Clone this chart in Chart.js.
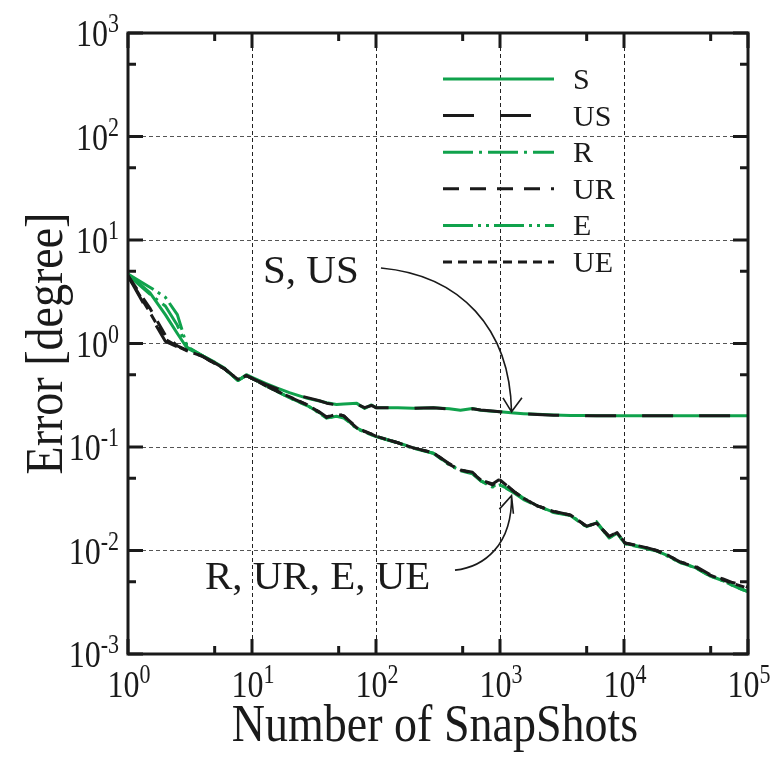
<!DOCTYPE html>
<html>
<head>
<meta charset="utf-8">
<script src="https://cdn.jsdelivr.net/npm/chart.js@4/dist/chart.umd.min.js"></script>
<style>
  html, body { margin: 0; padding: 0; background: #ffffff; }
  #wrap { width: 778px; height: 760px; }
</style>
</head>
<body>
<div id="wrap"><canvas id="c" width="778" height="760"></canvas></div>
<script>
// Number of snapshots used for the estimate
const snapshots = [1, 1.5, 2, 2.5, 3, 4, 5, 6, 7.7, 9, 10, 13, 16, 20, 28, 35, 40, 48, 55, 60,
  70, 81, 92, 100, 150, 200, 290, 390, 480, 600, 700, 870, 1000, 1300, 1550, 2000, 2700, 3700,
  5000, 6000, 7600, 8800, 10200, 14000, 18300, 23000, 28000, 38000, 49000, 63000, 75000, 90000, 100000];

// Error [degree] for each method
const errS  = [4.7, 3.1, 1.9, 1.25, 0.9, 0.76, 0.66, 0.58, 0.44, 0.5, 0.47, 0.41, 0.37, 0.335, 0.295,
  0.278, 0.268, 0.257, 0.26, 0.262, 0.264, 0.236, 0.255, 0.24, 0.239, 0.237, 0.24, 0.234, 0.226, 0.235,
  0.227, 0.222, 0.219, 0.213, 0.21, 0.207, 0.204, 0.202, 0.201, 0.2, 0.2, 0.2, 0.2, 0.2, 0.2,
  0.2, 0.2, 0.2, 0.2, 0.2, 0.2, 0.2, 0.2];
const errUS = [4.5, 1.9, 1.05, 0.93, 0.85, 0.75, 0.65, 0.57, 0.45, 0.49, 0.46, 0.4, 0.365, 0.33, 0.3,
  0.28, 0.265, 0.255, 0.258, 0.26, 0.26, 0.24, 0.252, 0.24, 0.238, 0.236, 0.24, 0.233, 0.228, 0.234,
  0.228, 0.223, 0.219, 0.212, 0.209, 0.206, 0.203, 0.201, 0.2, 0.2, 0.2, 0.2, 0.2, 0.2, 0.2,
  0.2, 0.2, 0.2, 0.2, 0.2, 0.2, 0.2, 0.2];
const errR  = [4.6, 3.0, 2.3, 1.5, 0.92, 0.76, 0.65, 0.57, 0.44, 0.49, 0.46, 0.39, 0.345, 0.3, 0.25,
  0.215, 0.19, 0.2, 0.195, 0.178, 0.152, 0.14, 0.132, 0.127, 0.11, 0.098, 0.087, 0.068, 0.06, 0.056,
  0.047, 0.042, 0.043, 0.037, 0.032, 0.027, 0.0235, 0.022, 0.017, 0.0185, 0.0133, 0.0146, 0.0117, 0.0108, 0.0099,
  0.0088, 0.0077, 0.0068, 0.0057, 0.0051, 0.0046, 0.0042, 0.0040];
const errUR = [4.5, 2.2, 1.2, 0.95, 0.86, 0.75, 0.64, 0.57, 0.45, 0.49, 0.46, 0.39, 0.345, 0.305, 0.255,
  0.218, 0.195, 0.21, 0.2, 0.182, 0.155, 0.142, 0.133, 0.127, 0.11, 0.098, 0.088, 0.069, 0.06, 0.057,
  0.048, 0.044, 0.049, 0.037, 0.032, 0.027, 0.024, 0.022, 0.0172, 0.0183, 0.0137, 0.015, 0.0118, 0.011, 0.01,
  0.0089, 0.0078, 0.007, 0.0059, 0.0053, 0.0049, 0.0047, 0.0044];
const errE  = [4.7, 3.5, 2.8, 1.9, 0.93, 0.76, 0.65, 0.57, 0.44, 0.49, 0.46, 0.39, 0.342, 0.3, 0.252,
  0.212, 0.19, 0.198, 0.19, 0.176, 0.15, 0.139, 0.131, 0.126, 0.109, 0.097, 0.087, 0.067, 0.059, 0.055,
  0.047, 0.041, 0.043, 0.036, 0.031, 0.027, 0.0233, 0.0218, 0.0168, 0.019, 0.0132, 0.0147, 0.0116, 0.0107, 0.0099,
  0.0087, 0.0077, 0.0068, 0.0057, 0.0051, 0.0046, 0.0042, 0.0040];
const errUE = [4.5, 2.0, 1.1, 0.94, 0.85, 0.75, 0.64, 0.57, 0.45, 0.49, 0.46, 0.39, 0.346, 0.306, 0.256,
  0.216, 0.193, 0.208, 0.2, 0.18, 0.153, 0.141, 0.133, 0.127, 0.11, 0.098, 0.088, 0.068, 0.06, 0.056,
  0.048, 0.043, 0.048, 0.037, 0.032, 0.027, 0.0238, 0.022, 0.0171, 0.0184, 0.0136, 0.0149, 0.0118, 0.0109, 0.01,
  0.0089, 0.0078, 0.0069, 0.0058, 0.0052, 0.0048, 0.0045, 0.0043];

const seriesNames = ['S', 'US', 'R', 'UR', 'E', 'UE'];

// Decade ticks of both log axes, labelled as 10^n
const xDecades = [1, 10, 100, 1000, 10000, 100000];
const xExponents = ['0', '1', '2', '3', '4', '5'];
const yDecades = [1e-3, 1e-2, 1e-1, 1, 10, 100, 1000];
const yExponents = ['-3', '-2', '-1', '0', '1', '2', '3'];

const xTitle = 'Number of SnapShots';
const yTitle = 'Error [degree]';
const noteUpper = 'S, US';
const noteLower = 'R, UR, E, UE';

const GREEN = '#10a24c';
const BLACK = '#1a1a1a';
const SERIF = "'Liberation Serif', 'Times New Roman', serif";

const styles = {
  S:  { color: GREEN, dash: [], order: 2 },
  US: { color: BLACK, dash: [31, 26], order: 1 },
  R:  { color: GREEN, dash: [30, 6, 3, 6], order: 2 },
  UR: { color: BLACK, dash: [16, 11], order: 1 },
  E:  { color: GREEN, dash: [30, 5, 3, 5, 3, 5], order: 2 },
  UE: { color: BLACK, dash: [9, 6], order: 1 }
};
const values = { S: errS, US: errUS, R: errR, UR: errUR, E: errE, UE: errUE };

const datasets = seriesNames.map(name => ({
  label: name,
  data: snapshots.map((x, i) => ({ x: x, y: values[name][i] })),
  borderColor: styles[name].color,
  borderDash: styles[name].dash,
  borderWidth: 3,
  borderCapStyle: 'butt',
  borderJoinStyle: 'round',
  pointRadius: 0,
  tension: 0,
  fill: false,
  order: styles[name].order
}));

// Text with a slight vertical stretch, as used for the axis lettering
function tallText(ctx, str, x, y, sy) {
  ctx.save();
  ctx.translate(x, y);
  ctx.scale(1, sy);
  ctx.fillText(str, 0, 0);
  ctx.restore();
}

const frameAndText = {
  id: 'frameAndText',
  afterDraw(chart) {
    const { ctx, chartArea: a } = chart;
    const xs = chart.scales.x, ys = chart.scales.y;
    ctx.save();
    ctx.fillStyle = BLACK;
    ctx.strokeStyle = BLACK;

    // frame
    ctx.lineWidth = 3;
    ctx.setLineDash([]);
    ctx.strokeRect(a.left, a.top, a.right - a.left, a.bottom - a.top);

    // inner tick marks on all four sides
    ctx.lineWidth = 3;
    ctx.beginPath();
    xDecades.forEach(v => {
      const px = xs.getPixelForValue(v);
      ctx.moveTo(px, a.bottom); ctx.lineTo(px, a.bottom - 15);
      ctx.moveTo(px, a.top); ctx.lineTo(px, a.top + 15);
      const m = v * 5;
      if (m < 1e5) {
        const pm = xs.getPixelForValue(m);
        ctx.moveTo(pm, a.bottom); ctx.lineTo(pm, a.bottom - 8);
        ctx.moveTo(pm, a.top); ctx.lineTo(pm, a.top + 8);
      }
    });
    yDecades.forEach(v => {
      const py = ys.getPixelForValue(v);
      ctx.moveTo(a.left, py); ctx.lineTo(a.left + 15, py);
      ctx.moveTo(a.right, py); ctx.lineTo(a.right - 15, py);
      const m = v * 5;
      if (m < 1e3) {
        const pm = ys.getPixelForValue(m);
        ctx.moveTo(a.left, pm); ctx.lineTo(a.left + 8, pm);
        ctx.moveTo(a.right, pm); ctx.lineTo(a.right - 8, pm);
      }
    });
    ctx.stroke();

    // tick labels 10^n
    const baseFont = '32px ' + SERIF, expFont = '22px ' + SERIF, sy = 1.2;
    ctx.textBaseline = 'alphabetic';
    ctx.textAlign = 'left';
    xDecades.forEach((v, i) => {
      const px = xs.getPixelForValue(v);
      ctx.font = baseFont; const wb = ctx.measureText('10').width;
      ctx.font = expFont; const we = ctx.measureText(xExponents[i]).width;
      const left = px - (wb + we) / 2 + 1;
      ctx.font = baseFont; tallText(ctx, '10', left, a.bottom + 43, sy);
      ctx.font = expFont; tallText(ctx, xExponents[i], left + wb, a.bottom + 29, sy);
    });
    yDecades.forEach((v, i) => {
      const py = ys.getPixelForValue(v);
      ctx.font = baseFont; const wb = ctx.measureText('10').width;
      ctx.font = expFont; const we = ctx.measureText(yExponents[i]).width;
      const right = a.left - 9;
      ctx.font = baseFont; tallText(ctx, '10', right - we - wb, py + 13, sy);
      ctx.font = expFont; tallText(ctx, yExponents[i], right - we, py - 1, sy);
    });

    // axis titles
    ctx.font = '46px ' + SERIF;
    ctx.textAlign = 'center';
    tallText(ctx, xTitle, (a.left + a.right) / 2 - 3, a.bottom + 87, 1.15);
    ctx.save();
    ctx.translate(62, (a.top + a.bottom) / 2);
    ctx.rotate(-Math.PI / 2);
    ctx.scale(1, 1.15);
    ctx.fillText(yTitle, 0, 0);
    ctx.restore();

    // legend
    ctx.textAlign = 'left';
    ctx.font = '30px ' + SERIF;
    chart.data.datasets.forEach((ds, i) => {
      const ly = a.top + 46 + i * 36.6;
      ctx.strokeStyle = ds.borderColor;
      ctx.lineWidth = 3;
      ctx.setLineDash(ds.borderDash);
      ctx.beginPath();
      ctx.moveTo(a.left + 315, ly);
      ctx.lineTo(a.left + 426, ly);
      ctx.stroke();
      ctx.setLineDash([]);
      ctx.fillStyle = BLACK;
      ctx.fillText(ds.label, a.left + 445, ly + 10);
    });

    // annotations with curved arrows
    const P = (lx, ly) => [xs.getPixelForValue(Math.pow(10, lx)), ys.getPixelForValue(Math.pow(10, ly))];
    ctx.font = '41px ' + SERIF;
    ctx.fillStyle = BLACK;
    const t1 = P(1.089, 0.585);
    ctx.fillText(noteUpper, t1[0], t1[1]);
    const t2 = P(0.62, -2.374);
    ctx.fillText(noteLower, t2[0], t2[1]);

    ctx.strokeStyle = BLACK;
    ctx.lineWidth = 1.6;
    function arrow(s, c1, c2, e, b1, b2) {
      ctx.beginPath();
      ctx.moveTo(s[0], s[1]);
      ctx.bezierCurveTo(c1[0], c1[1], c2[0], c2[1], e[0], e[1]);
      ctx.moveTo(b1[0], b1[1]); ctx.lineTo(e[0], e[1]); ctx.lineTo(b2[0], b2[1]);
      ctx.stroke();
    }
    arrow(P(2.04, 0.73), P(2.68, 0.66), P(3.08, 0.15), P(3.093, -0.66),
          P(3.024, -0.525), P(3.177, -0.525));
    arrow(P(2.637, -2.19), P(2.87, -2.16), P(3.1, -1.95), P(3.093, -1.47),
          P(2.995, -1.60), P(3.108, -1.645));
    ctx.restore();
  }
};

new Chart(document.getElementById('c'), {
  type: 'line',
  data: { datasets: datasets },
  options: {
    responsive: false,
    animation: false,
    devicePixelRatio: 1,
    layout: { padding: { left: 128, right: 30, top: 33, bottom: 106 } },
    plugins: { legend: { display: false }, tooltip: { enabled: false } },
    scales: {
      x: {
        type: 'logarithmic', min: 1, max: 100000,
        afterBuildTicks: s => { s.ticks = xDecades.map(v => ({ value: v })); },
        ticks: { display: false },
        grid: { color: '#222', lineWidth: 1, drawTicks: false, borderDash: [4, 3] },
        border: { display: false, dash: [4, 3] }
      },
      y: {
        type: 'logarithmic', min: 0.001, max: 1000,
        afterBuildTicks: s => { s.ticks = yDecades.map(v => ({ value: v })); },
        ticks: { display: false },
        grid: { color: '#555', lineWidth: 1, drawTicks: false, borderDash: [4, 3] },
        border: { display: false, dash: [4, 3] }
      }
    }
  },
  plugins: [frameAndText]
});
</script>
</body>
</html>
